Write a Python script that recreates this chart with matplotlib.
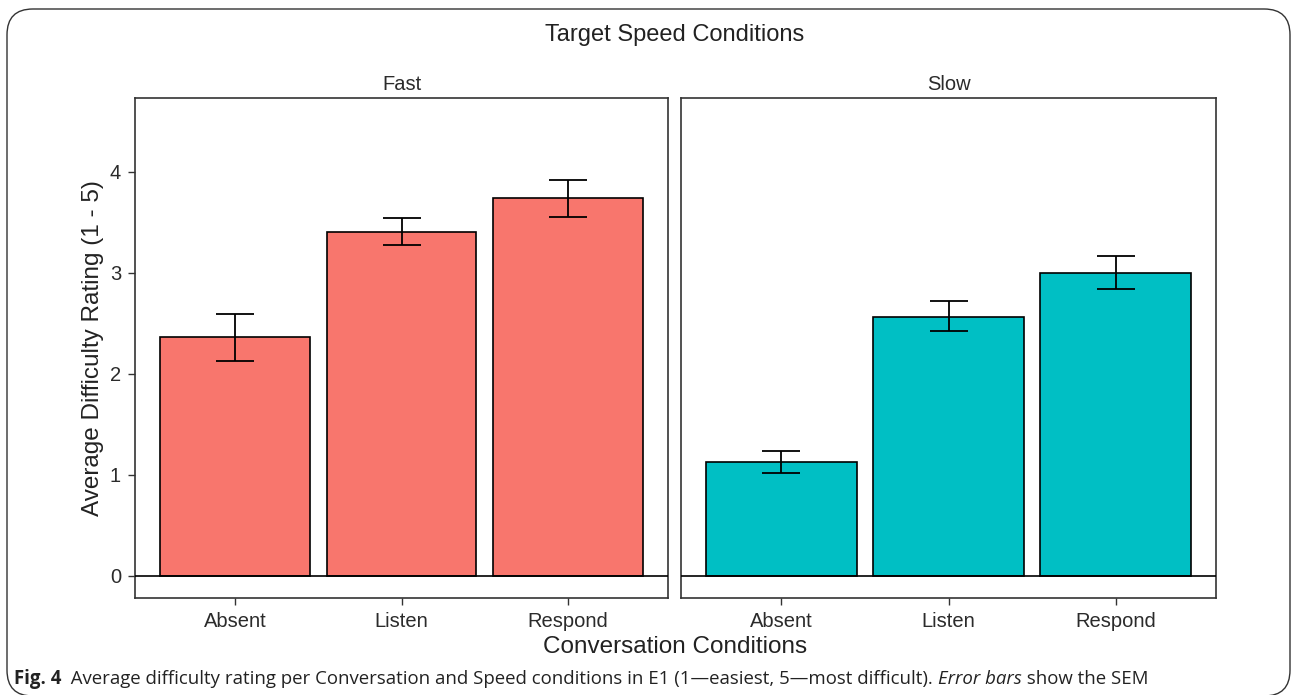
import numpy as np
import matplotlib.pyplot as plt
from matplotlib.patches import FancyBboxPatch

plt.rcParams['font.family'] = ['Liberation Sans', 'DejaVu Sans']

conditions = ['Absent', 'Listen', 'Respond']
speeds = ['Fast', 'Slow']
fast_mean = [2.36, 3.40, 3.74]
fast_lo = [2.13, 3.27, 3.55]
fast_hi = [2.59, 3.54, 3.92]
slow_mean = [1.13, 2.56, 3.00]
slow_lo = [1.02, 2.42, 2.84]
slow_hi = [1.24, 2.72, 3.17]
colors = ['#F8766D', '#00BFC4']
yticks = [0, 1, 2, 3, 4]

W, H = 1292, 695
fig = plt.figure(figsize=(W/100, H/100), dpi=100)

# rounded frame around the whole figure
frame = FancyBboxPatch((7/W, 1 - 696/H), (1290 - 7)/W, (696 - 9)/H,
                       boxstyle='round,pad=0,rounding_size=0.02',
                       transform=fig.transFigure, fill=False,
                       edgecolor='#333333', linewidth=1.0,
                       mutation_aspect=W/H)
fig.patches.append(frame)

panels = [(135, 668), (681, 1216)]
data = [(fast_mean, fast_lo, fast_hi), (slow_mean, slow_lo, slow_hi)]
x = np.arange(1, 4)
fs = 14.5

for i, (l, r) in enumerate(panels):
    ax = fig.add_axes([l/W, 1 - 598/H, (r - l)/W, (598 - 98)/H])
    m, lo, hi = data[i]
    ax.bar(x, m, width=0.9, color=colors[i], edgecolor='black', linewidth=1.2, zorder=2)
    ax.errorbar(x, m, yerr=[np.array(m) - np.array(lo), np.array(hi) - np.array(m)],
                fmt='none', ecolor='black', elinewidth=1.3, capsize=14, capthick=1.3, zorder=3)
    ax.axhline(0, color='black', linewidth=1.2, zorder=4)
    ax.set_xlim(0.4, 3.6)
    ax.set_ylim(-0.22, 4.73)
    ax.set_xticks(x)
    ax.set_xticklabels(conditions, fontsize=fs, color='#2b2b2b')
    ax.set_yticks(yticks)
    if i == 0:
        ax.set_yticklabels([str(t) for t in yticks], fontsize=fs, color='#2b2b2b')
    else:
        ax.tick_params(axis='y', left=False, labelleft=False)
    ax.tick_params(axis='both', direction='out', length=5, width=1.0, color='#333333', pad=5)
    for s in ax.spines.values():
        s.set_linewidth(1.2)
        s.set_color('#333333')
    ax.set_title(speeds[i], fontsize=fs, pad=6, color='#2b2b2b')

fig.text(675/W, 1 - 35/H, 'Target Speed Conditions', ha='center', va='center', fontsize=17, color='#222222')
fig.text(93/W, 1 - 348/H, 'Average Difficulty Rating (1 - 5)', ha='center', va='center',
         rotation=90, fontsize=17.5, color='#222222')
fig.text(675/W, 1 - 647/H, 'Conversation Conditions', ha='center', va='center', fontsize=17.5, color='#222222')

# caption in pieces: bold label, plain text, italic words, plain end
cap_font = ['Open Sans', 'DejaVu Sans']
cs = 13.4
t1 = fig.text(14/W, 1 - 684/H, 'Fig. 4', fontsize=cs, fontweight='bold', family=cap_font,
              color='#222222', va='baseline')
t2 = fig.text(0, 0, '  Average difficulty rating per Conversation and Speed conditions in E1 (1\u2014easiest, 5\u2014most difficult). ',
              fontsize=cs, family=cap_font, color='#222222', va='baseline')
t3 = fig.text(0, 0, 'Error bars', fontsize=cs, style='italic', family=cap_font, color='#222222', va='baseline')
t4 = fig.text(0, 0, ' show the SEM', fontsize=cs, family=cap_font, color='#222222', va='baseline')

fig.canvas.draw()
renderer = fig.canvas.get_renderer()
prev = t1
for t in (t2, t3, t4):
    bb = prev.get_window_extent(renderer)
    px, py = prev.get_transform().transform(prev.get_position())
    t.set_position(fig.transFigure.inverted().transform((bb.x1, py)))
    prev = t

fig.savefig('out.png', dpi=100)
